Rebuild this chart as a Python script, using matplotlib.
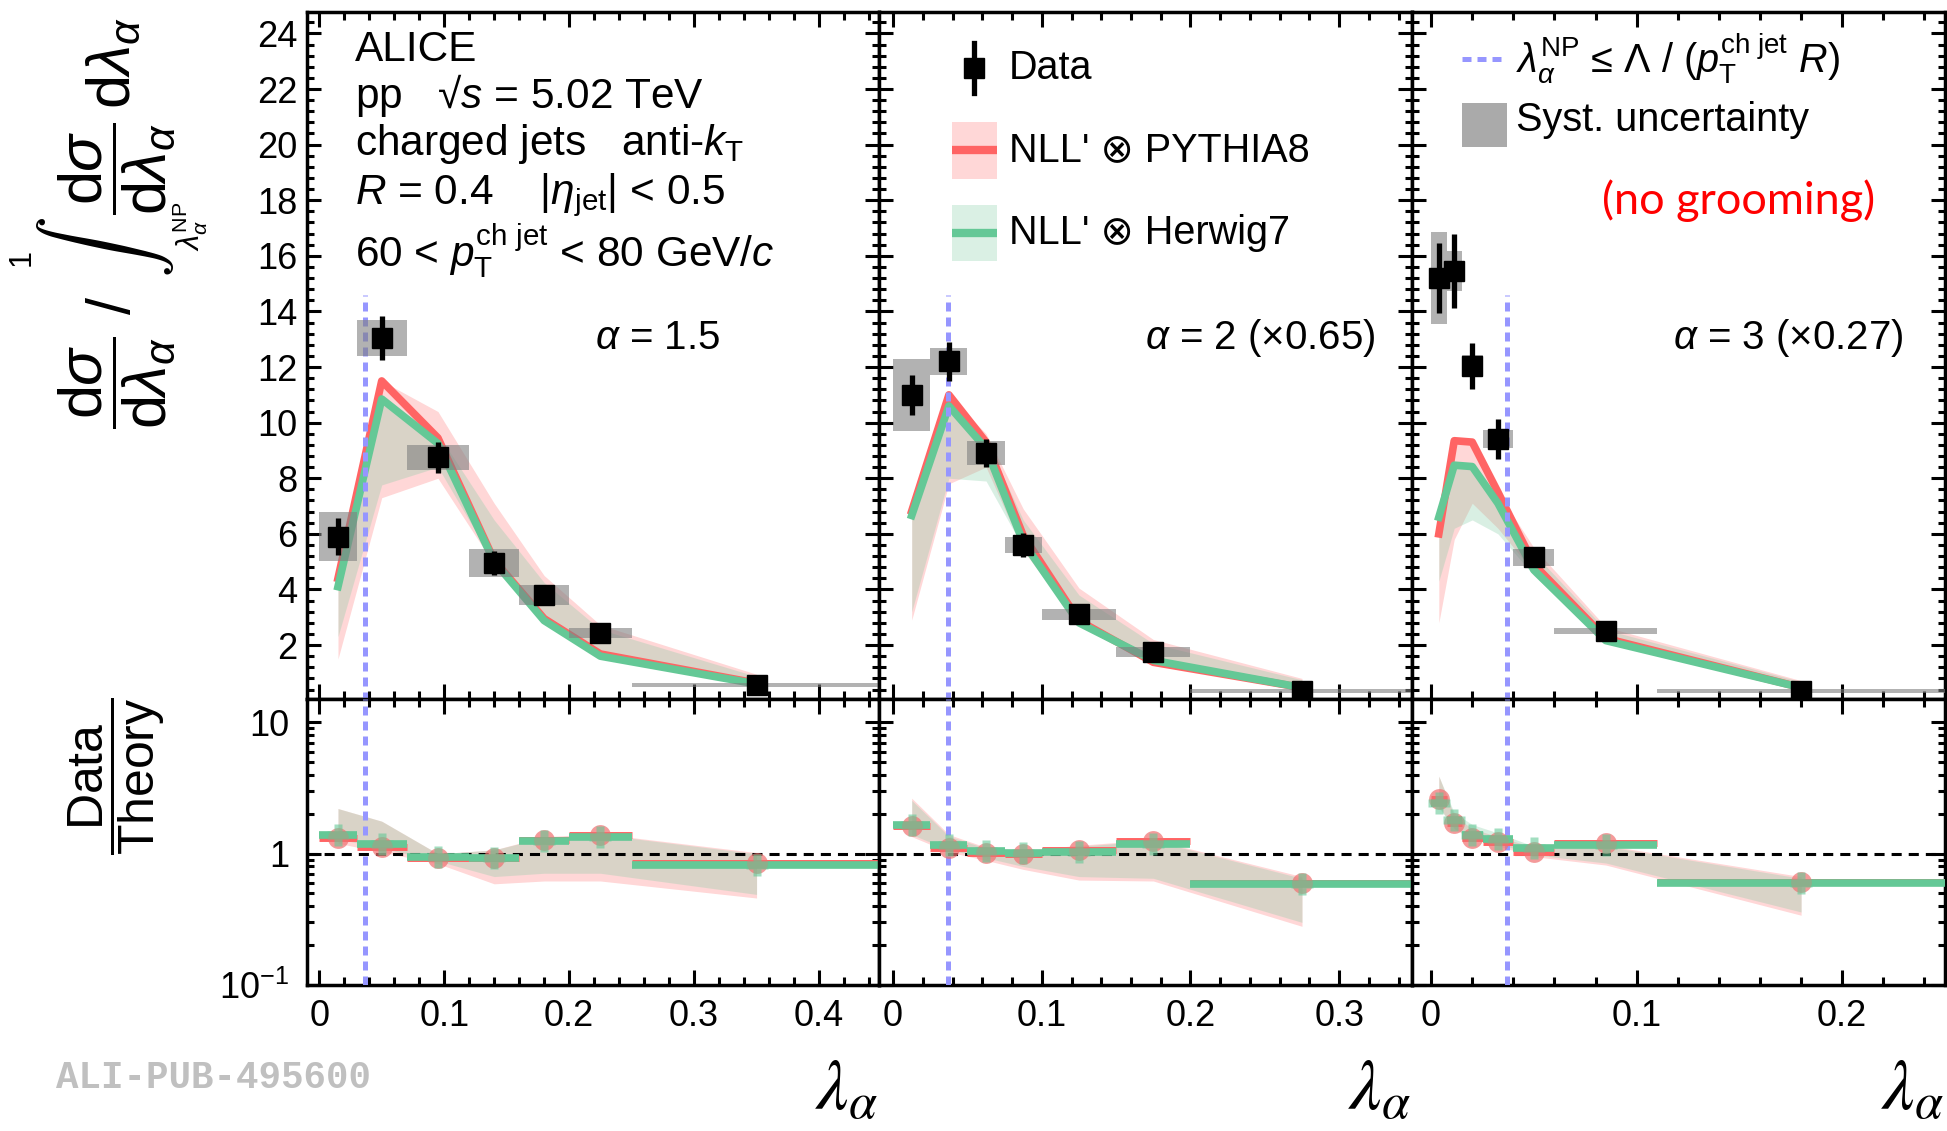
import matplotlib
matplotlib.use('Agg')
import matplotlib.pyplot as plt
import numpy as np
from matplotlib.patches import Rectangle
from matplotlib.ticker import MultipleLocator, FixedLocator, FixedFormatter, NullFormatter, FuncFormatter

plt.rcParams['font.family'] = ['Liberation Sans', 'DejaVu Sans']
plt.rcParams['mathtext.fontset'] = 'custom'
plt.rcParams['mathtext.rm'] = 'Liberation Sans'
plt.rcParams['mathtext.it'] = 'Liberation Sans:italic'
plt.rcParams['mathtext.bf'] = 'Liberation Sans:bold'
plt.rcParams['mathtext.sf'] = 'Liberation Sans'

# ---- alpha = 1.5 ----
edges15 = [0.0, 0.03, 0.07, 0.12, 0.16, 0.20, 0.25, 0.45]
data15 = [5.9, 13.05, 8.75, 4.95, 3.8, 2.42, 0.56]
stat15 = [0.66, 0.80, 0.55, 0.44, 0.20, 0.12, 0.05]
syst15 = [0.88, 0.64, 0.44, 0.50, 0.35, 0.18, 0.06]
py15 = [4.4, 11.5, 9.45, 5.05, 2.95, 1.68, 0.63]
py15_lo = [1.5, 7.3, 8.0, 4.9, 2.8, 1.6, 0.55]
py15_hi = [4.4, 11.5, 10.4, 7.1, 4.5, 2.72, 0.95]
hw15 = [4.1, 10.85, 9.25, 5.0, 2.88, 1.6, 0.6]
hw15_lo = [2.3, 7.76, 8.4, 4.95, 2.85, 1.58, 0.57]
hw15_hi = [4.1, 10.85, 9.6, 6.5, 4.25, 2.56, 0.87]
rpy15 = [1.32, 1.12, 0.93, 0.93, 1.28, 1.38, 0.85]
rhw15 = [1.40, 1.19, 0.95, 0.93, 1.24, 1.33, 0.82]
rpy15_lo = [1.2, 1.03, 0.84, 0.59, 0.62, 0.62, 0.46]
rpy15_hi = [2.21, 1.77, 1.0, 1.07, 1.35, 1.42, 1.02]
rhw15_lo = [1.3, 1.1, 0.88, 0.67, 0.71, 0.71, 0.49]
rhw15_hi = [2.21, 1.77, 1.0, 1.07, 1.33, 1.4, 1.0]

# ---- alpha = 2 (x0.65) ----
edges2 = [0.0, 0.025, 0.05, 0.075, 0.10, 0.15, 0.20, 0.35]
data2 = [11.0, 12.2, 8.9, 5.6, 3.1, 1.75, 0.35]
stat2 = [0.72, 0.70, 0.50, 0.44, 0.20, 0.12, 0.05]
syst2 = [1.29, 0.48, 0.44, 0.30, 0.20, 0.18, 0.06]
py2 = [6.82, 11.0, 9.3, 5.94, 2.88, 1.38, 0.47]
py2_lo = [2.9, 7.8, 8.4, 5.4, 2.75, 1.3, 0.4]
py2_hi = [6.82, 11.0, 9.6, 6.9, 4.05, 2.2, 0.8]
hw2 = [6.66, 10.6, 9.07, 5.7, 2.8, 1.45, 0.47]
hw2_lo = [3.2, 8.0, 7.9, 5.5, 2.78, 1.35, 0.42]
hw2_hi = [6.66, 10.6, 9.4, 6.5, 3.8, 2.05, 0.75]
rpy2 = [1.62, 1.10, 1.01, 0.99, 1.07, 1.24, 0.60]
rhw2 = [1.67, 1.16, 1.05, 1.01, 1.03, 1.19, 0.59]
rpy2_lo = [1.35, 1.03, 0.89, 0.76, 0.63, 0.62, 0.28]
rpy2_hi = [2.65, 1.4, 1.12, 1.06, 1.16, 1.28, 0.67]
rhw2_lo = [1.4, 1.07, 0.93, 0.80, 0.67, 0.65, 0.30]
rhw2_hi = [2.55, 1.36, 1.1, 1.04, 1.14, 1.26, 0.65]

# ---- alpha = 3 (x0.27) ----
edges3 = [0.0, 0.0075, 0.015, 0.025, 0.04, 0.06, 0.11, 0.25]
data3 = [15.2, 15.45, 12.05, 9.4, 5.15, 2.5, 0.35]
stat3 = [1.25, 1.33, 0.83, 0.72, 0.25, 0.12, 0.05]
syst3 = [1.65, 0.72, 0.40, 0.32, 0.32, 0.12, 0.06]
py3 = [6.0, 9.35, 9.3, 7.5, 4.9, 2.24, 0.47]
py3_lo = [2.8, 5.8, 7.1, 6.2, 4.6, 2.1, 0.42]
py3_hi = [6.0, 9.35, 9.3, 7.5, 5.5, 2.65, 0.72]
hw3 = [6.6, 8.47, 8.42, 7.1, 4.7, 2.16, 0.47]
hw3_lo = [4.3, 6.2, 6.5, 6.0, 4.5, 2.1, 0.43]
hw3_hi = [6.6, 8.47, 8.42, 7.3, 5.3, 2.55, 0.68]
rpy3 = [2.59, 1.72, 1.32, 1.23, 1.04, 1.21, 0.61]
rhw3 = [2.44, 1.82, 1.40, 1.30, 1.10, 1.16, 0.60]
rpy3_lo = [2.3, 1.55, 1.28, 1.15, 0.95, 0.82, 0.34]
rpy3_hi = [3.9, 1.95, 1.55, 1.35, 1.12, 1.16, 0.67]
rhw3_lo = [2.24, 1.57, 1.32, 1.2, 0.98, 0.85, 0.36]
rhw3_hi = [3.9, 2.05, 1.67, 1.44, 1.14, 1.14, 0.65]

lambda_np = 0.037
alpha_labels = [r'$\alpha$ = 1.5', r'$\alpha$ = 2 (×0.65)', r'$\alpha$ = 3 (×0.27)']

RED = '#ff6464'
GREEN = '#64c896'
PINK = '#ffd7d7'
GREEN_BAND = '#84cda5'
BLUE = '#9696ff'

W, H = 1947.0, 1131.0
fig = plt.figure(figsize=(19.47, 11.31), dpi=100)


def px_axes(x0, x1, y0, y1):
    return fig.add_axes([x0 / W, 1 - y1 / H, (x1 - x0) / W, (y1 - y0) / H])


def frame(ax, xlim, show_y, ratio=False):
    ax.set_xlim(xlim)
    ax.xaxis.set_major_locator(MultipleLocator(0.1))
    ax.xaxis.set_minor_locator(MultipleLocator(0.02))
    ax.xaxis.set_major_formatter(FuncFormatter(lambda v, p: '0' if abs(v) < 1e-9 else '%g' % round(v, 3)))
    for s in ax.spines.values():
        s.set_linewidth(2.5)
    ax.tick_params(which='both', direction='in', top=True, right=True, width=2.2, labelsize=26)
    ax.tick_params(axis='x', which='major', length=11, pad=10)
    ax.tick_params(axis='x', which='minor', length=6)
    if ratio:
        ax.set_yscale('log')
        ax.set_ylim(0.1, 15.1)
        ax.yaxis.set_major_locator(FixedLocator([0.1, 1, 10]))
        ax.yaxis.set_minor_locator(FixedLocator([k * 10.0 ** e for e in (-1, 0) for k in range(2, 10)]))
        ax.yaxis.set_major_formatter(FixedFormatter([r'10$^{-1}$', '1', '10']))
        ax.yaxis.set_minor_formatter(NullFormatter())
        ax.tick_params(axis='y', which='major', length=10, pad=13)
        ax.tick_params(axis='y', which='minor', length=5)
        ax.tick_params(axis='x', labelbottom=True)
    else:
        ax.set_ylim(0.06, 24.77)
        ax.yaxis.set_major_locator(MultipleLocator(2))
        ax.yaxis.set_minor_locator(MultipleLocator(0.4))
        ax.tick_params(axis='y', which='major', length=10, pad=7)
        ax.tick_params(axis='y', which='minor', length=5)
        ax.tick_params(axis='x', labelbottom=False)
    if not show_y:
        ax.tick_params(axis='y', labelleft=False)


def draw_top(ax, edges, y, stat, syst, py, py_lo, py_hi, hw, hw_lo, hw_hi):
    edges = np.array(edges)
    xc = 0.5 * (edges[1:] + edges[:-1])
    ax.fill_between(xc, py_lo, py_hi, color=PINK, lw=0, zorder=1)
    ax.fill_between(xc, hw_lo, hw_hi, color=GREEN_BAND, alpha=0.3, lw=0, zorder=2)
    ax.plot(xc, py, color=RED, lw=5.5, zorder=3)
    ax.plot(xc, hw, color=GREEN, lw=5.5, zorder=4)
    ax.plot([lambda_np, lambda_np], [0, 14.6], color=BLUE, lw=3.6, ls=(0, (1.8, 1.2)), zorder=5)
    for i in range(len(y)):
        ax.add_patch(Rectangle((edges[i], y[i] - syst[i]), edges[i + 1] - edges[i], 2 * syst[i],
                               fc='#808080', alpha=0.6, lw=0, zorder=6))
    ax.errorbar(xc, y, yerr=stat, fmt='s', color='k', ms=14, elinewidth=3.8, capsize=0, zorder=7)


def draw_ratio(ax, edges, rpy, rhw, rpy_lo, rpy_hi, rhw_lo, rhw_hi):
    edges = np.array(edges)
    xc = 0.5 * (edges[1:] + edges[:-1])
    ax.fill_between(xc, rpy_lo, rpy_hi, color=PINK, lw=0, zorder=1)
    ax.fill_between(xc, rhw_lo, rhw_hi, color=GREEN_BAND, alpha=0.3, lw=0, zorder=2)
    ax.axhline(1, color='k', lw=2.2, ls=(0, (3.3, 2.3)), zorder=3)
    ax.axvline(lambda_np, color=BLUE, lw=3.6, ls=(0, (1.8, 1.2)), zorder=4)
    ax.hlines(rpy, edges[:-1], edges[1:], color=RED, lw=5, zorder=5)
    ax.hlines(rhw, edges[:-1], edges[1:], color=GREEN, lw=5.5, zorder=6)
    ax.plot(xc, rpy, 'o', color='#f07070', alpha=0.7, ms=15, mec='none', zorder=7)
    ax.plot(xc, rhw, 'P', color=GREEN, alpha=0.6, ms=16, mec='none', zorder=8)


panels = [
    ((307, 879), (-0.0098, 0.448),
     (edges15, data15, stat15, syst15, py15, py15_lo, py15_hi, hw15, hw15_lo, hw15_hi),
     (edges15, rpy15, rhw15, rpy15_lo, rpy15_hi, rhw15_lo, rhw15_hi)),
    ((879, 1412), (-0.0095, 0.349),
     (edges2, data2, stat2, syst2, py2, py2_lo, py2_hi, hw2, hw2_lo, hw2_hi),
     (edges2, rpy2, rhw2, rpy2_lo, rpy2_hi, rhw2_lo, rhw2_hi)),
    ((1412, 1945), (-0.0093, 0.25),
     (edges3, data3, stat3, syst3, py3, py3_lo, py3_hi, hw3, hw3_lo, hw3_hi),
     (edges3, rpy3, rhw3, rpy3_lo, rpy3_hi, rhw3_lo, rhw3_hi)),
]

alpha_pos = [0.722, 0.932, 0.923]
tops = []
for i, (cols, xlim, top_args, ratio_args) in enumerate(panels):
    ax = px_axes(cols[0], cols[1], 12, 699)
    frame(ax, xlim, i == 0)
    draw_top(ax, *top_args)
    ax.text(alpha_pos[i], 0.509, alpha_labels[i], transform=ax.transAxes,
            ha='right', va='baseline', fontsize=29)
    tops.append(ax)

    axr = px_axes(cols[0], cols[1], 699, 985)
    frame(axr, xlim, i == 0, ratio=True)
    draw_ratio(axr, *ratio_args)

    fig.text(cols[1] / W, 0.0195, r'$\lambda_{\alpha}$', ha='right', va='baseline',
             fontsize=52, math_fontfamily='stix')

# collision system block
ax = tops[0]
info = ['ALICE',
        'pp   √$s$ = 5.02 TeV',
        'charged jets   anti-$k_{\\mathrm{T}}$',
        '$R$ = 0.4    |$\\eta_{\\mathrm{jet}}$| < 0.5',
        '60 < $p_{\\mathrm{T}}^{\\mathrm{ch\\ jet}}$ < 80 GeV/$c$']
for txt, yb in zip(info, [0.928, 0.860, 0.792, 0.7205, 0.629]):
    ax.text(0.084, yb, txt, transform=ax.transAxes, ha='left', va='baseline', fontsize=30.5)

# legend: data and models
ax = tops[1]
ax.plot([0.178, 0.178], [0.8825, 0.9545], color='k', lw=3.8, transform=ax.transAxes, clip_on=False)
ax.plot([0.178], [0.9185], 's', color='k', ms=14, transform=ax.transAxes)
ax.text(0.244, 0.9185, 'Data', transform=ax.transAxes, va='center', fontsize=28.5)
for yc, band, line, lab in [(0.7985, PINK, RED, "NLL' ⊗ PYTHIA8"),
                            (0.678, '#daf0e4', GREEN, "NLL' ⊗ Herwig7")]:
    ax.add_patch(Rectangle((0.137, yc - 0.041), 0.084, 0.082, transform=ax.transAxes,
                           fc=band, lw=0, zorder=8))
    ax.plot([0.137, 0.221], [yc, yc], color=line, lw=6, transform=ax.transAxes, zorder=9,
            solid_capstyle='butt')
    ax.text(0.244, yc, lab, transform=ax.transAxes, va='center', fontsize=28.5)

# legend: NP cut and syst
ax = tops[2]
ax.plot([0.094, 0.176], [0.932, 0.932], color=BLUE, lw=3.6, ls=(0, (1.8, 1.2)),
        transform=ax.transAxes)
ax.text(0.195, 0.932, r'$\lambda_{\alpha}^{\mathrm{NP}}$ ≤ Λ / ($p_{\mathrm{T}}^{\mathrm{ch\ jet}}$ $R$)',
        transform=ax.transAxes, va='center', fontsize=28.5)
ax.add_patch(Rectangle((0.094, 0.804), 0.084, 0.063, transform=ax.transAxes,
                       fc='#aaaaaa', lw=0))
ax.text(0.195, 0.843, 'Syst. uncertainty', transform=ax.transAxes, va='center', fontsize=28.5)
ax.text(0.612, 0.725, '(no grooming)', transform=ax.transAxes, ha='center', va='center',
        fontsize=32.5, color='red', family='Lato')

# y axis titles
fig.text(117 / W, 1 - 116 / H, r'$\dfrac{\mathrm{d}\sigma}{\mathrm{d}\lambda_{\alpha}}\,\mathrm{d}\lambda_{\alpha}$',
         rotation=90, ha='center', va='center', fontsize=44)
fig.text(105 / W, 1 - 247 / H, r'$\int$', rotation=90, ha='center', va='center', fontsize=45,
         math_fontfamily='cm')
fig.text(190 / W, 1 - 226 / H, r'$\lambda_{\alpha}^{\mathrm{NP}}$', rotation=90,
         ha='center', va='center', fontsize=22)
fig.text(22 / W, 1 - 257 / H, '1', rotation=90, ha='center', va='center', fontsize=22)
fig.text(117 / W, 1 - 362 / H, r'$\dfrac{\mathrm{d}\sigma}{\mathrm{d}\lambda_{\alpha}}$ /',
         rotation=90, ha='center', va='center', fontsize=44)
fig.text(117 / W, 1 - 776 / H, r'$\dfrac{\mathrm{Data}}{\mathrm{Theory}}$',
         rotation=90, ha='center', va='center', fontsize=36)

fig.text(56 / W, 1 - 1078 / H, 'ALI-PUB-495600', ha='left', va='center', fontsize=27,
         family='Liberation Mono', weight='bold', color='#c0c0c0')

fig.savefig('out.png', dpi=100)
